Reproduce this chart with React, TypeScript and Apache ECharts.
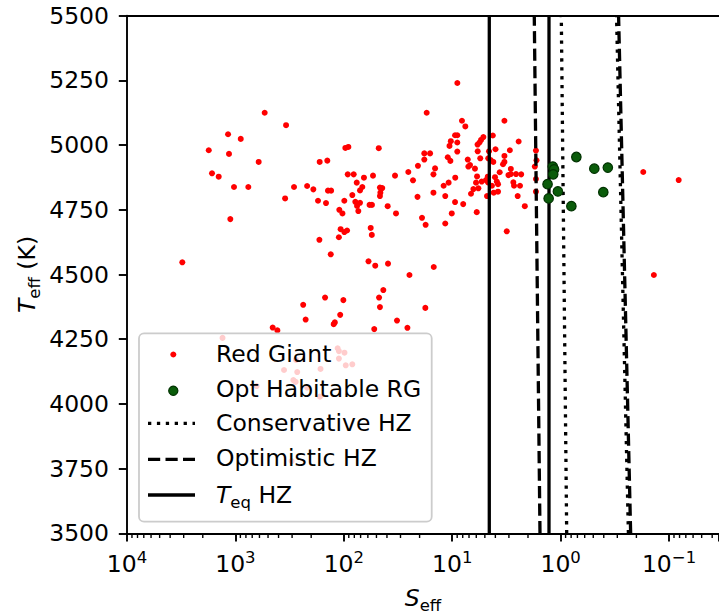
import React, { useEffect, useRef } from 'react';
import * as echarts from 'echarts';

const FONT = 'DejaVu Sans';
const FS = 23.5;
const FS_SMALL = 16.5;

// Axis ranges
const X_MAX = 10000;
const X_MIN = 0.0346;
const Y_MIN = 3500;
const Y_MAX = 5500;
const Y_INTERVAL = 250;
const xTickExponents = [4, 3, 2, 1, 0, -1];
const xMinorMultipliers = [2, 3, 4, 5, 6, 7, 8, 9];
const yTickLabels = ['3500', '3750', '4000', '4250', '4500', '4750', '5000', '5250', '5500'];

// Red giants: effective stellar flux (S_eff) and effective temperature (K)
const redSeff = [
  3090, 1762, 1644, 1426, 1169, 1146, 1114, 1030, 893, 760, 610, 537, 348, 341, 288, 218, 191, 173, 167, 146, 142, 168, 132, 96.8, 90.8, 92.0, 81.1, 76.0, 140, 131, 98.9, 83.5, 78.3, 75.5, 73.5, 110, 103, 107, 98.9, 93.3, 111, 70.9, 70.9,
  237, 225, 453, 410, 149, 101, 108, 121, 124, 47.3, 43.2, 46.4, 17.7, 32.3, 25.9, 52.4, 1315, 114, 111, 98.6, 111, 96.0, 83.5, 276, 356, 269, 164, 292, 278, 637, 166, 218, 303,
  47.6, 20.7, 25.4, 53.8, 33.7, 65.2, 23.0, 67.5, 46.4, 44.2, 20.9, 46.0, 46.4, 57.9, 55.0, 39.4, 33.0, 56.5, 55.2, 59.2, 51.3, 39.1, 24.8, 19.0, 17.6,
  17.2, 8.97, 8.13, 7.57, 3.30, 9.42, 8.97, 10.3, 8.98, 10.6, 8.98, 5.84, 5.60, 5.42, 5.16, 4.22, 2.44, 5.82, 4.58, 3.99, 2.94, 5.51, 4.65, 4.42, 4.18, 3.30, 3.30, 3.40, 1.69, 1.67, 18.1, 16.0, 18.1, 11.0, 10.4, 14.4, 14.9, 7.19, 7.10, 6.85, 6.17, 5.90, 9.38, 10.8, 12.0, 6.03, 6.38, 5.74, 6.71, 14.9, 11.6, 9.42, 7.92, 5.94, 10.1, 11.6,
  4.70, 4.88, 4.68, 5.35, 4.03, 3.88, 3.78, 3.65, 2.88, 2.88, 3.03, 2.58, 2.31, 2.73, 2.69, 2.37, 4.30, 3.78, 4.14, 2.49, 1.73, 1.69, 1.69, 4.78, 2.14, 3.14, 14.8, 0.138, 0.173, 0.0815,
];
const redTeff = [
  4547, 4980, 4891, 4878, 5042, 4966, 4714, 4838, 5024, 4838, 4935, 5125, 4794, 5077, 4838, 4842, 4829, 4785, 4935, 4776, 4940, 4634, 4578, 4989, 4993, 4887, 4887, 4855, 4824, 4824, 4785, 4807, 4781, 4765, 4745, 4750, 4736, 4675, 4664, 4670, 4644, 4825, 4777,
  4383, 4326, 4295, 4284, 4411, 4401, 4344, 4315, 4308, 4411, 4440, 4374, 4371, 4322, 4294, 4289, 4255, 4215, 4204, 4198, 4175, 4149, 4153, 4170, 4131, 4123, 4135, 4092, 4085, 4069, 4028, 4063, 3779,
  4988, 4920, 4896, 4882, 4882, 4874, 4864, 4838, 4836, 4834, 4800, 4816, 4803, 4769, 4769, 4764, 4736, 4680, 4653, 4551, 4534, 4542, 4498, 4719, 4692,
  5125, 5240, 5094, 5072, 5094, 5038, 5038, 5015, 5010, 4997, 4975, 5002, 5010, 5020, 5031, 5037, 5014, 4976, 4976, 4984, 4980, 4949, 4949, 4942, 4935, 4958, 4935, 4926, 4979, 4941, 4968, 4968, 4944, 4953, 4939, 4910, 4887, 4944, 4917, 4923, 4909, 4879, 4874, 4855, 4843, 4855, 4830, 4833, 4812, 4816, 4803, 4780, 4772, 4741, 4736, 4697,
  4878, 4865, 4856, 4859, 4876, 4859, 4849, 4895, 4908, 4888, 4884, 4888, 4887, 4856, 4843, 4843, 4843, 4820, 4816, 4803, 4917, 4869, 4820, 4803, 4764, 4667, 4529, 4498, 4896, 4865,
];

// Optimistically habitable red giants
const greenSeff = [1.18, 1.15, 1.17, 1.32, 1.29, 1.06, 0.716, 0.796, 0.489, 0.367, 0.404];
const greenTeff = [4917, 4906, 4887, 4849, 4794, 4821, 4954, 4764, 4909, 4913, 4818];

// Habitable-zone boundaries: S_eff at Teff = 3500 K and 5500 K
const hzTeff = [3500, 5500];
const consInnerSeff = [0.879, 0.986];
const consOuterSeff = [0.237, 0.305];
const optInnerSeff = [1.55, 1.75];
const optOuterSeff = [0.226, 0.292];
const teqInnerSeff = [4.55, 4.55];
const teqOuterSeff = [1.28, 1.28];

const legendLabels = ['Red Giant', 'Opt Habitable RG', 'Conservative HZ', 'Optimistic HZ', '{i|T}{sub|eq} HZ'];

const DOTTED = [3.3, 5.6];
const DASHED = [12.2, 5.3];
const LW = 3.3;

function supLabel(exp: number) {
  const e = exp < 0 ? '\u2212' + String(-exp) : String(exp);
  return `{b|10}{s|${e}}`;
}

function hzLine(name: string, seff: number[], dash: any) {
  return {
    type: 'line',
    name,
    data: hzTeff.map((t, i) => [seff[i], t]),
    symbol: 'none',
    z: 3,
    silent: true,
    lineStyle: { color: '#000', width: LW, type: dash, cap: 'butt' },
  };
}

export default function App() {
  const ref = useRef<HTMLDivElement>(null);
  useEffect(() => {
    const chart = echarts.init(ref.current as HTMLDivElement, null, { renderer: 'svg' });

    const richSup = {
      b: { fontFamily: FONT, fontSize: FS, color: '#000', lineHeight: 28 },
      s: { fontFamily: FONT, fontSize: FS_SMALL, color: '#000', lineHeight: 18, padding: [0, 0, 14, 0] },
    };
    const richSub = {
      i: { fontFamily: FONT, fontSize: FS, fontStyle: 'italic', color: '#000', lineHeight: 28 },
      sub: { fontFamily: FONT, fontSize: FS_SMALL, color: '#000', lineHeight: 17, padding: [15, 0, 0, 0] },
    };

    const legendRowY = [354.5, 390.7, 423.3, 459.3, 495];
    const textRowY = [353.5, 389, 422.8, 458, 494.5];

    const legendElements: any[] = [
      {
        type: 'rect',
        z: 100,
        shape: { x: 139, y: 333.3, width: 292.7, height: 188.4, r: 5 },
        style: { fill: 'rgba(255,255,255,0.8)', stroke: '#cccccc', lineWidth: 1.8 },
      },
      {
        type: 'circle',
        z: 101,
        shape: { cx: 173.3, cy: legendRowY[0], r: 3 },
        style: { fill: '#ff0000' },
      },
      {
        type: 'circle',
        z: 101,
        shape: { cx: 173.3, cy: legendRowY[1], r: 4.6 },
        style: { fill: '#0a5c0a', stroke: '#023302', lineWidth: 1.2 },
      },
      {
        type: 'line',
        z: 101,
        shape: { x1: 148, y1: legendRowY[2], x2: 195, y2: legendRowY[2] },
        style: { stroke: '#000', lineWidth: LW, lineDash: DOTTED, lineCap: 'butt' },
      },
      {
        type: 'line',
        z: 101,
        shape: { x1: 148, y1: legendRowY[3], x2: 195, y2: legendRowY[3] },
        style: { stroke: '#000', lineWidth: LW, lineDash: DASHED, lineCap: 'butt' },
      },
      {
        type: 'line',
        z: 101,
        shape: { x1: 148, y1: legendRowY[4], x2: 195, y2: legendRowY[4] },
        style: { stroke: '#000', lineWidth: LW },
      },
      ...legendLabels.map((t, i) => ({
        type: 'text',
        z: 101,
        x: 216,
        y: textRowY[i],
        style: {
          text: t,
          fill: '#000',
          fontFamily: FONT,
          fontSize: FS,
          lineHeight: 28,
          align: 'left',
          verticalAlign: 'middle',
          rich: richSub,
        },
      })),
    ];

    const minorTickData: number[][] = [];
    for (const e of [-2, -1, 0, 1, 2, 3]) {
      for (const m of xMinorMultipliers) {
        const v = m * Math.pow(10, e);
        if (v >= X_MIN && v <= X_MAX) minorTickData.push([v, Y_MIN]);
      }
    }

    const option: any = {
      animation: false,
      backgroundColor: '#fff',
      grid: { left: 127, right: 0, top: 15.7, bottom: 82.7, containLabel: false, outerBoundsMode: 'none' },
      xAxis: [
        {
          type: 'log',
          logBase: 10,
          min: X_MIN,
          max: X_MAX,
          inverse: true,
          position: 'bottom',
          name: '{i|S}{sub|eff}',
          nameLocation: 'middle',
          nameGap: 51,
          nameMoveOverlap: false,
          nameTextStyle: { fontFamily: FONT, fontSize: FS, color: '#000', lineHeight: 28, rich: richSub },
          axisLine: { show: true, onZero: false, lineStyle: { color: '#000', width: 1.9 } },
          axisTick: { show: true, length: 8.2, lineStyle: { color: '#000', width: 1.9 } },
          minorTick: { show: false },
          splitLine: { show: false },
          minorSplitLine: { show: false },
          axisLabel: {
            margin: 17,
            hideOverlap: false,
            formatter: (v: number) => {
              const l = Math.log10(v);
              const r = Math.round(l);
              if (Math.abs(l - r) > 1e-6 || xTickExponents.indexOf(r) < 0) return '';
              return supLabel(r);
            },
            rich: richSup,
          },
        },
        {
          type: 'log',
          logBase: 10,
          min: X_MIN,
          max: X_MAX,
          inverse: true,
          position: 'top',
          axisLine: { show: true, onZero: false, lineStyle: { color: '#000', width: 1.9 } },
          axisTick: { show: false },
          axisLabel: { show: false },
          splitLine: { show: false },
        },
      ],
      yAxis: {
        type: 'value',
        min: Y_MIN,
        max: Y_MAX,
        interval: Y_INTERVAL,
        name: '{i|T}{sub|eff} (K)',
        nameLocation: 'middle',
        nameRotate: 90,
        nameGap: 86,
        nameMoveOverlap: false,
        nameTextStyle: { fontFamily: FONT, fontSize: FS, color: '#000', lineHeight: 28, rich: richSub },
        axisLine: { show: true, onZero: false, lineStyle: { color: '#000', width: 1.9 } },
        axisTick: { show: true, length: 8.2, lineStyle: { color: '#000', width: 1.9 } },
        splitLine: { show: false },
        axisLabel: {
          margin: 18,
          fontFamily: FONT,
          fontSize: FS,
          color: '#000',
          formatter: (v: number) => {
            const i = Math.round((v - Y_MIN) / Y_INTERVAL);
            return yTickLabels[i] ?? String(v);
          },
        },
      },
      series: [
        {
          type: 'scatter',
          name: 'Red Giant',
          data: redSeff.map((s, i) => [s, redTeff[i]]),
          symbol: 'circle',
          symbolSize: 6,
          z: 2,
          silent: true,
          itemStyle: { color: '#ff0000', opacity: 1 },
        },
        hzLine('Conservative HZ inner', consInnerSeff, DOTTED),
        hzLine('Conservative HZ outer', consOuterSeff, DOTTED),
        hzLine('Optimistic HZ inner', optInnerSeff, DASHED),
        hzLine('Optimistic HZ outer', optOuterSeff, DASHED),
        hzLine('Teq HZ inner', teqInnerSeff, 'solid'),
        hzLine('Teq HZ outer', teqOuterSeff, 'solid'),
        {
          type: 'scatter',
          name: 'Opt Habitable RG',
          data: greenSeff.map((s, i) => [s, greenTeff[i]]),
          symbol: 'circle',
          symbolSize: 9.5,
          z: 4,
          silent: true,
          itemStyle: { color: '#0a5c0a', borderColor: '#023302', borderWidth: 1.2, opacity: 1 },
        },
        {
          type: 'custom',
          name: 'x minor ticks',
          data: minorTickData,
          clip: false,
          silent: true,
          z: 10,
          renderItem: (_p: any, api: any) => {
            const pt = api.coord([api.value(0), api.value(1)]);
            return {
              type: 'rect',
              shape: { x: pt[0] - 0.7, y: pt[1], width: 1.4, height: 4.7 },
              style: { fill: '#000' },
            };
          },
        },
      ],
      graphic: { elements: legendElements },
    };

    chart.setOption(option);
    return () => chart.dispose();
  }, []);

  return (
    <div
      ref={ref}
      style={{ position: 'fixed', left: 0, top: 0, width: 719, height: 616, background: '#fff' }}
    />
  );
}
